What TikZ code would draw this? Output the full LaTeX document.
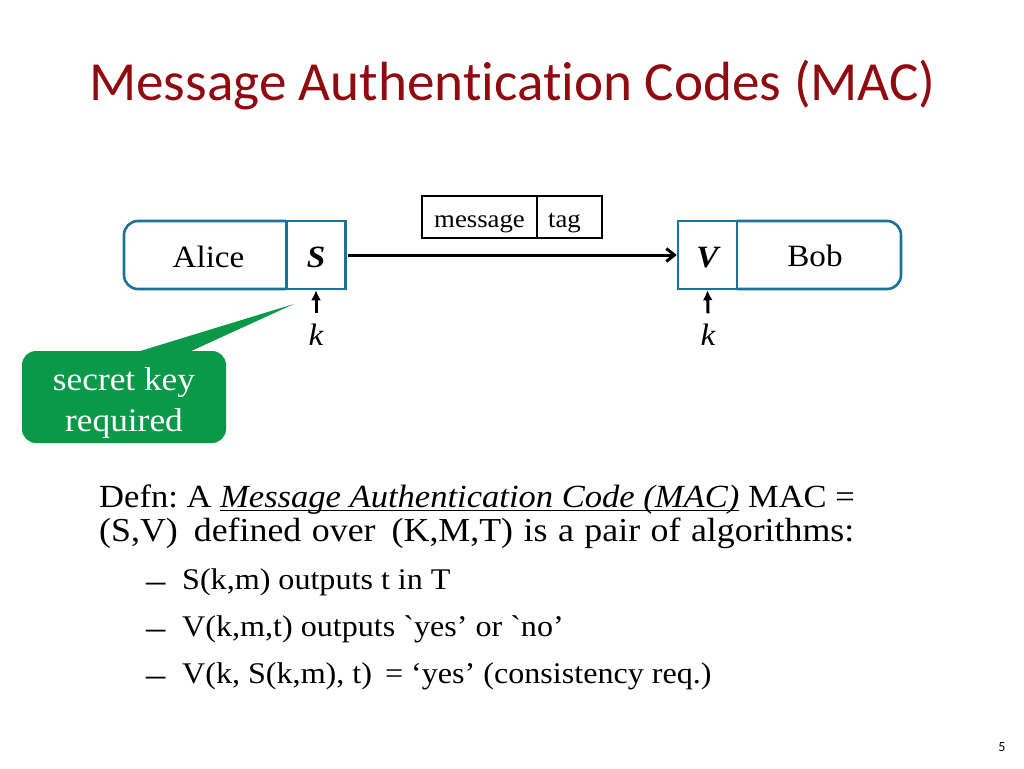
\documentclass[tikz,border=0pt]{standalone}
\usepackage{fontspec}
\setmainfont[FakeStretch=1.07]{Liberation Serif}
\newfontfamily\titlefont[Ligatures=NoCommon]{Carlito}
\newfontfamily\bodyfont[FakeStretch=1.07]{Liberation Serif}
\usetikzlibrary{arrows.meta}
\definecolor{titlered}{RGB}{145,10,16}
\definecolor{boxblue}{RGB}{28,113,155}
\definecolor{keygreen}{RGB}{10,153,72}
\frenchspacing
\newsavebox{\termbox}
\def\termline#1{\sbox{\termbox}{#1}\rlap{\rule[-4pt]{\wd\termbox}{1.5pt}}\usebox{\termbox}}
\tikzset{
	party/.style={inner sep=0pt, font=\fontsize{31}{31}\selectfont},
	algo/.style={draw=boxblue, line width=2.6pt, minimum width=59pt, minimum height=68pt, inner sep=0pt, text height=26pt, text depth=2pt, font=\fontsize{31}{31}\selectfont\bfseries\itshape},
	packet/.style={draw=black, line width=1.5pt, minimum height=42pt, inner sep=0pt, text height=22pt, text depth=2pt, font=\fontsize{25}{25}\selectfont},
	keylabel/.style={inner sep=0pt, text height=31.5pt, text depth=13.5pt, font=\fontsize{31}{31}\selectfont\itshape},
	keyarrow/.style={-{Latex[length=10pt, width=10pt]}, line width=3pt},
	bodyline/.style={anchor=base west, inner sep=0pt, font=\fontsize{33.5}{33.5}\selectfont},
	defnline/.style={anchor=base west, inner sep=0pt, font=\fontsize{32.3}{33.5}\selectfont},
	subline/.style={anchor=base west, inner sep=0pt, font=\fontsize{30}{30}\selectfont},
	subdash/.style={anchor=base west, inner sep=0pt, font=\fontsize{36}{36}\selectfont},
}
\begin{document}
\begin{tikzpicture}[x=1pt, y=-1pt]
		%%%%% START %%%%%
		\useasboundingbox (0, 0) rectangle (1024, 768);
		\fill[white] (0, 0) rectangle (1024, 768);
		
		\node[text=titlered, font=\titlefont\fontsize{55.2}{55.2}\selectfont, inner sep=0pt] (title) at (512.5, 85) {Message Authentication Codes (MAC)};
		
		\draw[boxblue, line width=2.6pt, rounded corners=14pt] (286, 221) -- (124, 221) -- (124, 289) -- (286, 289);
		\node[algo] (sign) at (316, 255) {S};
		\node[party] (alice) at (208.5, 257) {Alice};
		
		\draw[boxblue, line width=2.6pt, rounded corners=14pt] (737, 221) -- (901, 221) -- (901, 289) -- (737, 289);
		\node[algo] (verify) at (707.5, 255) {V};
		\node[party] (bob) at (815, 256) {Bob};
		
		\node[packet, minimum width=115pt] (message) at (479.5, 217) {message};
		\node[packet, minimum width=65pt] (tag) at (569.5, 217) {tag\kern10pt\relax};
		
		\draw[-{Straight Barb[length=8pt, width=13pt]}, line width=3pt, shorten <=1pt] (sign.east) -- (verify.west);
		
		\node[keylabel] (signkey) at (316, 336) {k};
		\node[keylabel] (verifykey) at (708, 336) {k};
		\draw[keyarrow] (signkey.north) -- (sign.south);
		\draw[keyarrow] (verifykey.north) -- (verify.south);
		
		\fill[keygreen] (137, 352) -- (294, 304) -- (189, 352) -- cycle;
		\node[fill=keygreen, rounded corners=14pt, minimum width=204pt, minimum height=92pt, inner sep=0pt, align=center, text=white, font=\fontsize{33}{41}\selectfont] (secret) at (124, 397) {\rule{0pt}{36pt}secret key\\required};
		
		\node[defnline] (defn) at (99, 507) {Defn: A \termline{\textit{Message Authentication Code (MAC)}} MAC =};
		\node[bodyline] (over) at (99, 541) {\spaceskip=10.5pt (S,V)\, defined over\, (K,M,T) is a pair of algorithms:};
		
		\node[subdash] (dashone) at (146, 592) {–};
		\node[subline] (subone) at (182, 589) {S(k,m) outputs t in T};
		\node[subdash] (dashtwo) at (146, 639) {–};
		\node[subline] (subtwo) at (182, 636) {V(k,m,t) outputs {\bodyfont `yes’} or {\bodyfont `no’}};
		\node[subdash] (dashthree) at (146, 686) {–};
		\node[subline] (subthree) at (182, 683) {V(k, S(k,m), t)\, = ‘yes’ (consistency req.)};
		
		\node[font=\titlefont\fontsize{14}{14}\selectfont, inner sep=0pt] (page) at (1002, 747) {5};
		%%%%% END %%%%%
	\end{tikzpicture}
\end{document}
